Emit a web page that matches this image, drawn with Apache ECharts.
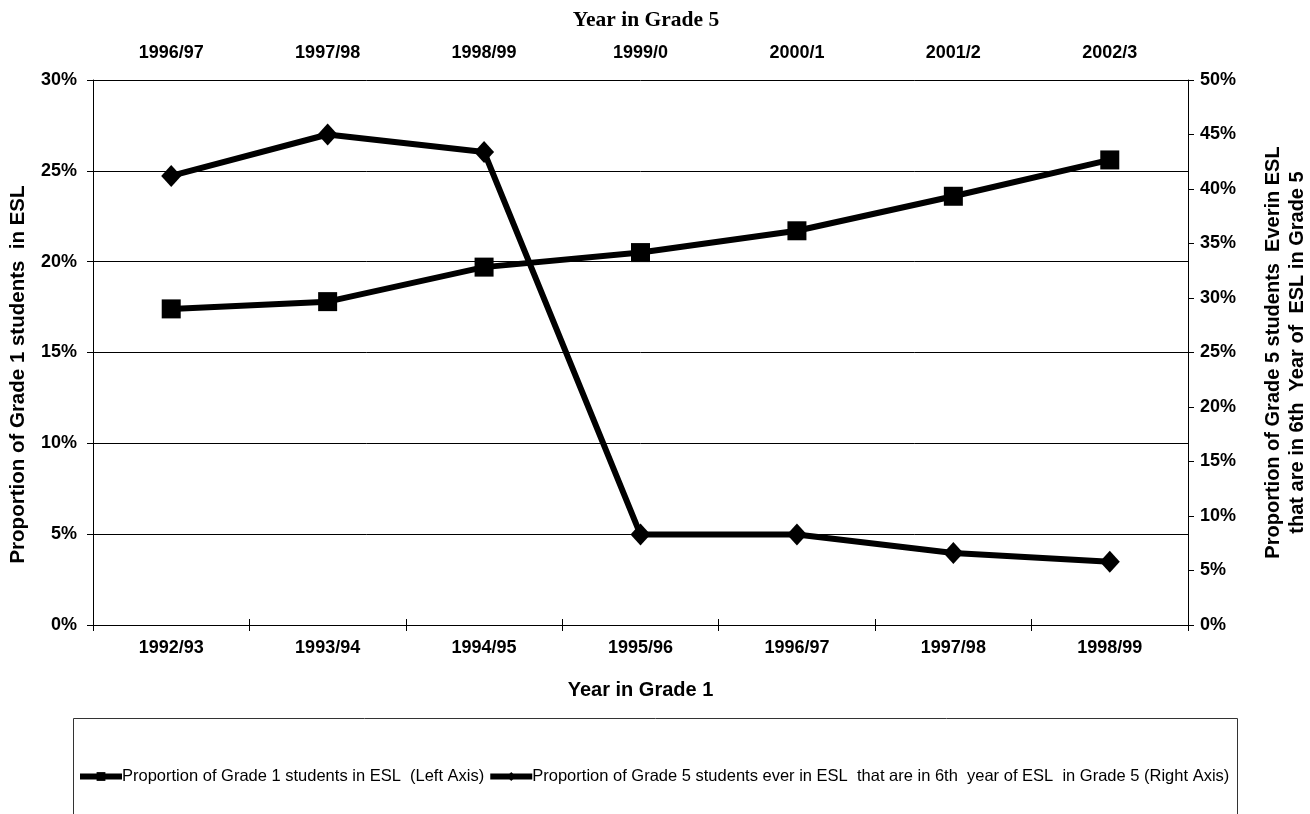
<!DOCTYPE html>
<html>
<head>
<meta charset="utf-8">
<script src="https://cdn.jsdelivr.net/npm/echarts@6/dist/echarts.min.js"></script>
<style>
  html, body { margin: 0; padding: 0; background: #fff; }
  #chart { width: 1310px; height: 814px; }
</style>
</head>
<body>
<div id="chart"></div>
<script>
// Cohort years: grade 1 year (bottom axis) and the matching grade 5 year (top axis)
const grade1Years = ['1992/93', '1993/94', '1994/95', '1995/96', '1996/97', '1997/98', '1998/99'];
const grade5Years = ['1996/97', '1997/98', '1998/99', '1999/0', '2000/1', '2001/2', '2002/3'];

// Percent values
const grade1InESL = [17.4, 17.8, 19.7, 20.5, 21.7, 23.6, 25.6];          // left axis
const grade5SixthYearESL = [41.2, 45.0, 43.4, 8.3, 8.3, 6.6, 5.8];       // right axis

const leftTicks = { min: 0, max: 30, interval: 5 };
const rightTicks = { min: 0, max: 50, interval: 5 };

const seriesNames = [
  'Proportion of Grade 1 students in ESL  (Left Axis)',
  'Proportion of Grade 5 students ever in ESL  that are in 6th  year of ESL  in Grade 5 (Right Axis)'
];

const sans = 'Liberation Sans, Arial, sans-serif';
const axisLabelStyle = { color: '#000', fontFamily: sans, fontWeight: 'bold', fontSize: 18 };
const axisNameStyle = { fontFamily: sans, fontWeight: 'bold', fontSize: 20, color: '#000' };

const chart = echarts.init(document.getElementById('chart'), null, { renderer: 'canvas' });

chart.setOption({
  animation: false,
  backgroundColor: '#fff',
  title: {
    text: 'Year in Grade 5',
    left: 641, top: 4, textAlign: 'center',
    textStyle: { fontFamily: 'Liberation Serif, Times New Roman, serif', fontWeight: 'bold', fontSize: 21.5, color: '#000' }
  },
  grid: { left: 93, right: 122, top: 80, bottom: 189, containLabel: false, outerBoundsMode: 'none' },
  legend: {
    left: 72, top: 763,
    itemWidth: 42, itemHeight: 11, itemGap: 3,
    lineStyle: { width: 6, color: '#000' },
    textStyle: { fontFamily: sans, fontSize: 16.5, color: '#000', padding: [0, 0, 0, -5] },
    data: seriesNames
  },
  graphic: [{
    type: 'rect', z: -1,
    shape: { x: 73.5, y: 718.5, width: 1164, height: 130 },
    style: { fill: 'none', stroke: '#333', lineWidth: 1 }
  }],
  xAxis: [
    {
      type: 'category', position: 'bottom', data: grade1Years, boundaryGap: true,
      name: 'Year in Grade 1', nameLocation: 'middle', nameGap: 55,
      nameTextStyle: axisNameStyle,
      axisLine: { lineStyle: { color: '#000', width: 1 } },
      axisTick: { show: true, length: 6, lineStyle: { color: '#000' } },
      axisLabel: Object.assign({ margin: 14 }, axisLabelStyle),
      splitLine: { show: false }
    },
    {
      type: 'category', position: 'top', data: grade5Years, boundaryGap: true,
      axisLine: { lineStyle: { color: '#000', width: 1 } },
      axisTick: { show: true, length: 6, lineStyle: { color: '#000' } },
      axisLabel: Object.assign({ margin: 18 }, axisLabelStyle),
      splitLine: { show: false }
    }
  ],
  yAxis: [
    {
      type: 'value', position: 'left',
      min: leftTicks.min, max: leftTicks.max, interval: leftTicks.interval,
      name: 'Proportion of Grade 1 students  in ESL', nameLocation: 'middle', nameRotate: 90, nameGap: 64,
      nameTextStyle: Object.assign({}, axisNameStyle, { fontSize: 20.5, padding: [0, 44, 0, 0] }),
      axisLine: { show: true, lineStyle: { color: '#000', width: 1 } },
      axisTick: { show: true, length: 6, lineStyle: { color: '#000' } },
      axisLabel: Object.assign({ margin: 16, formatter: '{value}%' }, axisLabelStyle),
      splitLine: { show: true, lineStyle: { color: '#000', width: 1 } }
    },
    {
      type: 'value', position: 'right',
      min: rightTicks.min, max: rightTicks.max, interval: rightTicks.interval,
      name: 'Proportion of Grade 5 students  Everin ESL\nthat are in 6th  Year of  ESL in Grade 5',
      nameLocation: 'middle', nameRotate: 90, nameGap: 73,
      nameTextStyle: Object.assign({ lineHeight: 24 }, axisNameStyle),
      axisLine: { show: true, lineStyle: { color: '#000', width: 1 } },
      axisTick: { show: true, length: 6, lineStyle: { color: '#000' } },
      axisLabel: Object.assign({ margin: 12, formatter: '{value}%' }, axisLabelStyle),
      splitLine: { show: false }
    }
  ],
  series: [
    {
      name: seriesNames[0], type: 'line', xAxisIndex: 0, yAxisIndex: 0,
      data: grade1InESL,
      symbol: 'rect', symbolSize: 19,
      lineStyle: { color: '#000', width: 6 },
      itemStyle: { color: '#000' },
      z: 3
    },
    {
      name: seriesNames[1], type: 'line', xAxisIndex: 0, yAxisIndex: 1,
      data: grade5SixthYearESL,
      symbol: 'diamond', symbolSize: [20, 22],
      lineStyle: { color: '#000', width: 6 },
      itemStyle: { color: '#000' },
      z: 3
    }
  ]
});
</script>
</body>
</html>
